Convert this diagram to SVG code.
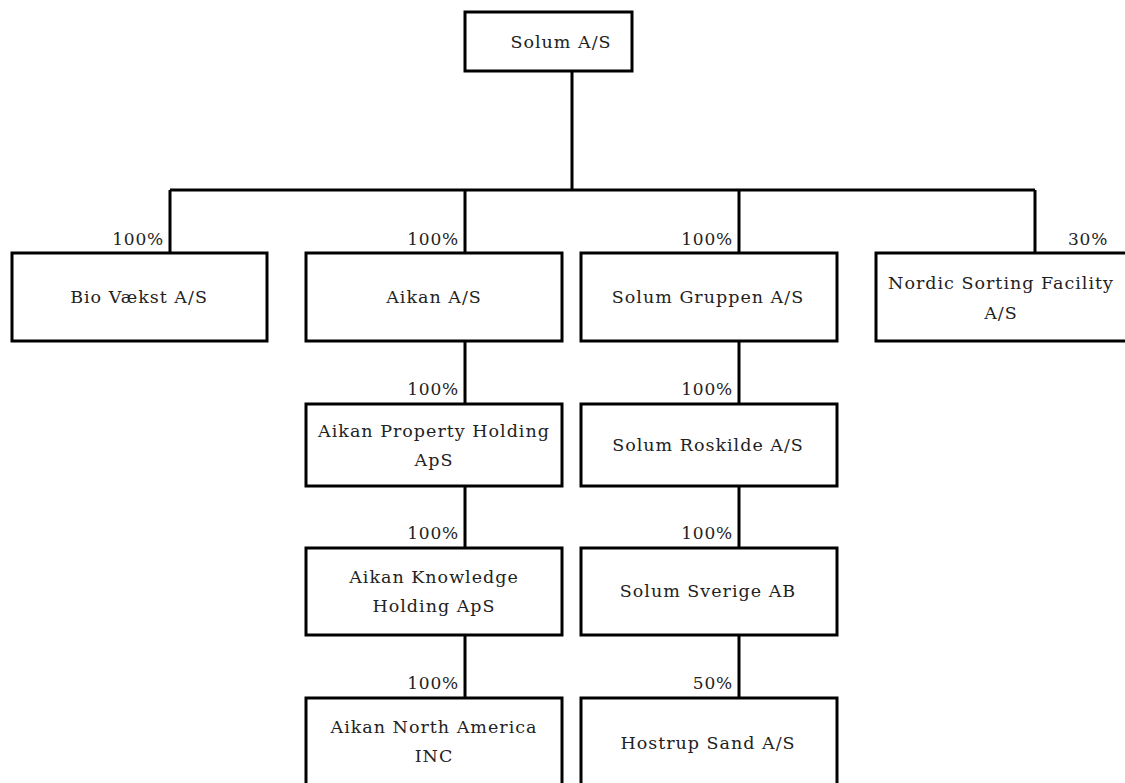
<svg xmlns="http://www.w3.org/2000/svg" width="1125" height="783" viewBox="0 0 1125 783">
<style>
.box{fill:#fff;stroke:#000;stroke-width:3}
.ln{fill:none;stroke:#000;stroke-width:3}
.t{font-family:"DejaVu Serif","Liberation Serif",serif;font-size:17.5px;fill:#222;text-anchor:middle;letter-spacing:1px}
.p{font-family:"DejaVu Serif","Liberation Serif",serif;font-size:17px;fill:#222;letter-spacing:0.8px}
.pr{text-anchor:end}
</style>
<rect width="1125" height="783" fill="#fff"/>
<g id="connectors">
<path class="ln" d="M572 71V190M170 190H1035M170 190V253M465 190V253M739 190V253M1035 190V253"/>
<path class="ln" d="M465 341V404M465 486V548M465 635V698M739 341V404M739 486V548M739 635V698"/>
<text class="p pr" x="164" y="245">100%</text>
<text class="p pr" x="459" y="245">100%</text>
<text class="p pr" x="733" y="245">100%</text>
<text class="p" x="1068" y="245">30%</text>
<text class="p pr" x="459" y="395">100%</text>
<text class="p pr" x="733" y="395">100%</text>
<text class="p pr" x="459" y="539">100%</text>
<text class="p pr" x="733" y="539">100%</text>
<text class="p pr" x="459" y="689">100%</text>
<text class="p pr" x="733" y="689">50%</text>
</g>
<g id="solum"><rect class="box" x="465" y="12" width="167" height="59"/><text class="t" x="561" y="48">Solum A/S</text></g>
<g id="biovaekst"><rect class="box" x="12" y="253" width="255" height="88"/><text class="t" x="139" y="303">Bio Vækst A/S</text></g>
<g id="aikan"><rect class="box" x="306" y="253" width="256" height="88"/><text class="t" x="434" y="303">Aikan A/S</text></g>
<g id="gruppen"><rect class="box" x="581" y="253" width="256" height="88"/><text class="t" x="708" y="303">Solum Gruppen A/S</text></g>
<g id="nordic"><rect class="box" x="876" y="253" width="260" height="88"/><text class="t" x="1001" y="289">Nordic Sorting Facility</text><text class="t" x="1001" y="319">A/S</text></g>
<g id="aikanproperty"><rect class="box" x="306" y="404" width="256" height="82"/><text class="t" x="434" y="437">Aikan Property Holding</text><text class="t" x="434" y="466">ApS</text></g>
<g id="roskilde"><rect class="box" x="581" y="404" width="256" height="82"/><text class="t" x="708" y="451">Solum Roskilde A/S</text></g>
<g id="aikanknowledge"><rect class="box" x="306" y="548" width="256" height="87"/><text class="t" x="434" y="583">Aikan Knowledge</text><text class="t" x="434" y="612">Holding ApS</text></g>
<g id="sverige"><rect class="box" x="581" y="548" width="256" height="87"/><text class="t" x="708" y="597">Solum Sverige AB</text></g>
<g id="aikanna"><rect class="box" x="306" y="698" width="256" height="100"/><text class="t" x="434" y="733">Aikan North America</text><text class="t" x="434" y="762">INC</text></g>
<g id="hostrup"><rect class="box" x="581" y="698" width="256" height="100"/><text class="t" x="708" y="749">Hostrup Sand A/S</text></g>
</svg>
